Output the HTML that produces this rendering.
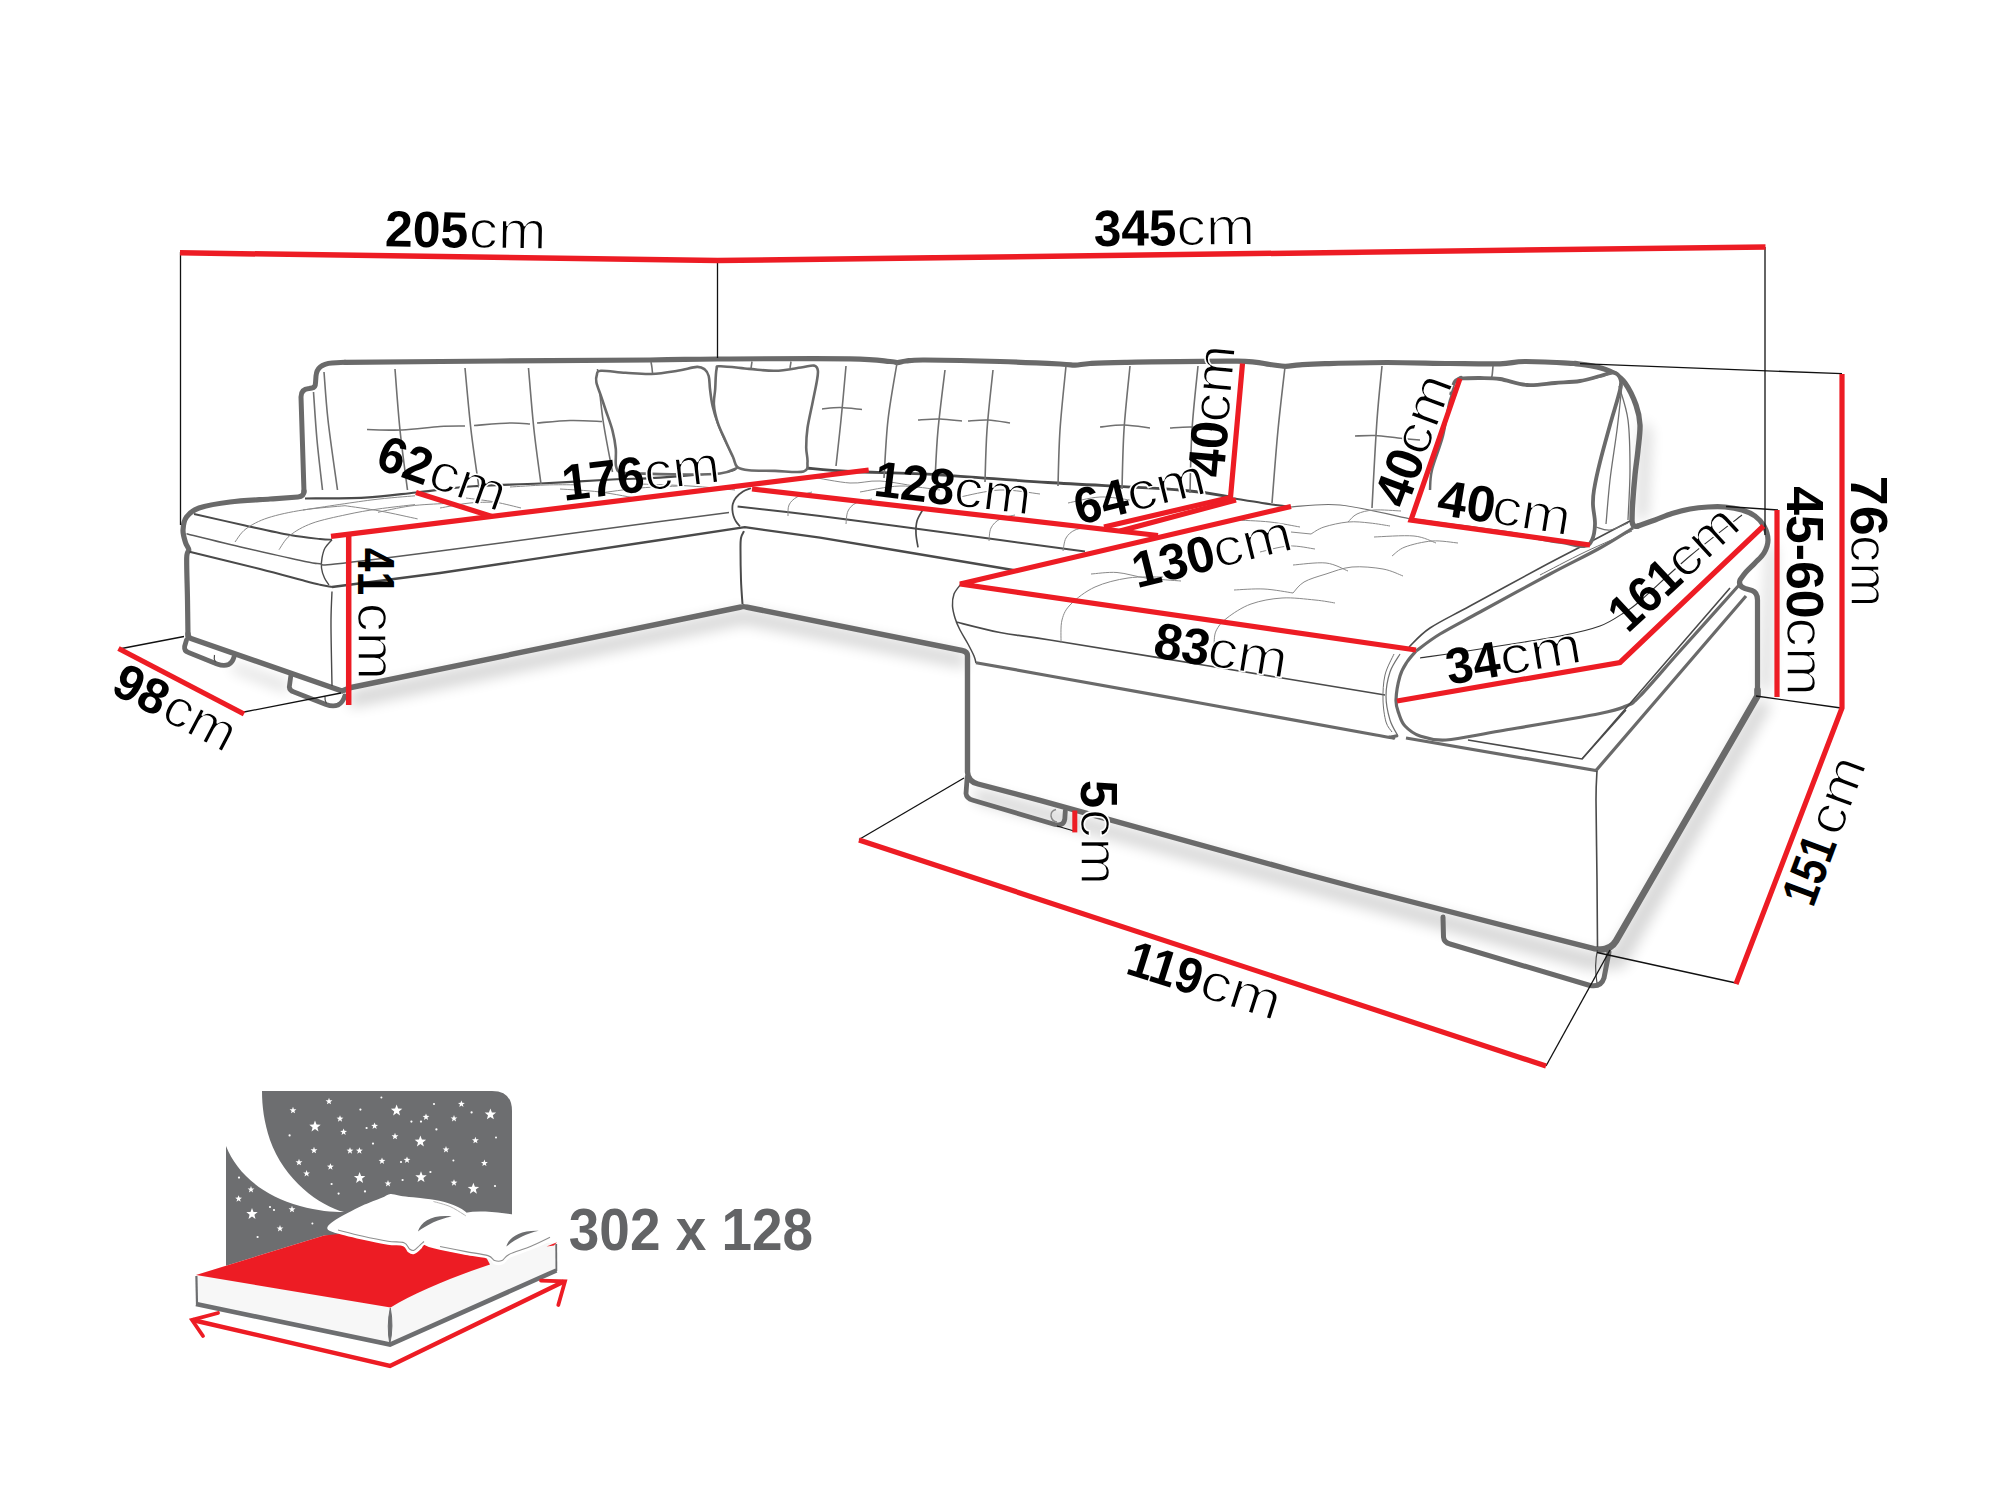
<!DOCTYPE html>
<html lang="en"><head><meta charset="utf-8"><title>Sofa dimensions</title>
<style>
html,body{margin:0;padding:0;background:#fff;}
body{width:2000px;height:1500px;overflow:hidden;}
svg{display:block;}
text{font-family:"Liberation Sans",sans-serif;fill:#000;}
.b{font-weight:700;}
.r{font-weight:400;}
</style></head><body>
<svg width="2000" height="1500" viewBox="0 0 2000 1500">
<defs>
<filter id="sh" x="-20%" y="-20%" width="140%" height="140%"><feGaussianBlur stdDeviation="7"/></filter>
</defs>
<rect width="2000" height="1500" fill="#fff"/>
<g filter="url(#sh)" opacity="0.16" fill="#000">
<path d="M350,691 L744,609 L965,654 L965,668 L744,624 L350,708Z"/>
<path d="M975,788 L1595,953 L1612,950 L1757,700 L1772,704 L1624,968 L1590,970 L975,802Z"/>
<path d="M1641,420 L1651,430 L1647,518 L1637,520Z"/>
<path d="M232,663 L288,683 L288,692 L232,670Z"/>
<path d="M1768,545 L1776,548 L1770,690 L1760,690Z"/>
</g>
<path d="M188,637 C187.9,630.8 187.7,613.2 187.5,600 C187.3,586.8 186.5,566.3 186.7,558 C186.9,549.7 189,552.6 188.8,550 C188.6,547.4 186.5,545.8 185.5,542.5 C184.5,539.2 182.8,534.2 183,530 C183.2,525.8 183.8,520.7 186.5,517 C189.2,513.3 191.8,510.5 199,508 C206.2,505.5 218.2,503.5 230,502 C241.8,500.5 258.7,499.8 270,499 C281.3,498.2 293.3,497.3 298,497 Q304,496.5 304,491" fill="none" stroke="#6a6a6a" stroke-width="5.2" stroke-linejoin="round" stroke-linecap="round"/>
<path d="M304,492 L301,397 Q301,389 309,388.5 L312,388 Q315.5,387.5 315.5,383 L316,376 Q317,364 332,363 L345,362.3" fill="none" stroke="#6a6a6a" stroke-width="5" stroke-linejoin="round" stroke-linecap="round"/>
<path d="M345,362.3 C370.8,362.1 449.2,361.4 500,361 C550.8,360.6 613.8,360.3 650,360 C686.2,359.7 683.7,359.2 717,359 C750.3,358.8 821.2,358.4 850,358.8 C878.8,359.2 882.1,360.9 890,361.5 C897.9,362.1 894.8,362.7 897.5,362.6 C900.2,362.5 901.4,361.4 906,361 C910.6,360.6 909.3,359.9 925,360 C940.7,360.1 977.5,360.8 1000,361.5 C1022.5,362.2 1047.5,363.4 1060,364 C1072.5,364.6 1070,365.3 1075,365.2 C1080,365.1 1081.7,364 1090,363.5 C1098.3,363 1100.5,362.8 1125,362.4 C1149.5,362 1212.8,360.8 1237,361.2 C1261.2,361.6 1262,363.6 1270,364.5 C1278,365.4 1280,366.2 1285,366.3 C1290,366.4 1293.3,365.2 1300,364.8 C1306.7,364.4 1310.5,364.1 1325,363.7 C1339.5,363.3 1366.2,362.5 1387,362.5 C1407.8,362.5 1431.2,363.3 1450,363.5 C1468.8,363.7 1487.5,364.1 1500,363.8 C1512.5,363.5 1512.5,361.6 1525,361.5 C1537.5,361.4 1566.7,363.2 1575,363.5" fill="none" stroke="#6a6a6a" stroke-width="5.2" stroke-linejoin="round" stroke-linecap="round"/>
<path d="M1575,363.5 C1578.7,364.1 1590.8,365.5 1597,367 C1603.2,368.5 1607.8,369.8 1612.5,372.5 C1617.2,375.2 1621.1,377.6 1625,383 C1628.9,388.4 1633.5,398 1636,405 C1638.5,412 1639.7,417.5 1640,425 C1640.3,432.5 1638.8,441.7 1638,450 C1637.2,458.3 1635.9,465.8 1635,475 C1634.1,484.2 1633,497.5 1632.5,505 C1632,512.5 1632.1,517.5 1632,520 Q1632,528 1638,526" fill="none" stroke="#6a6a6a" stroke-width="5.4" stroke-linejoin="round" stroke-linecap="round"/>
<path d="M1638,526 C1640.8,525 1649.3,522.1 1655,520 C1660.7,517.9 1666.2,515.3 1672,513.5 C1677.8,511.7 1684,510.1 1690,509 C1696,507.9 1702.2,507.3 1708,507 C1713.8,506.7 1719.3,506.5 1725,507 C1730.7,507.5 1737,508.5 1742,510 C1747,511.5 1751.3,513.3 1755,516 C1758.7,518.7 1761.8,522 1764,526 C1766.2,530 1768,535.5 1768,540 C1768,544.5 1766.2,549.2 1764,553 C1761.8,556.8 1758,559.8 1755,563 C1752,566.2 1748.5,569.2 1746,572 C1743.5,574.8 1741,578.7 1740,580 Q1738,586 1745,588.5 L1752,590.5 Q1757.5,592.5 1757.5,600 L1757.5,696" fill="none" stroke="#6a6a6a" stroke-width="5.2" stroke-linejoin="round" stroke-linecap="round"/>
<path d="M1757.5,690 L1757.5,696 L1616,941 Q1611,949.5 1600,949.8" fill="none" stroke="#6a6a6a" stroke-width="6.6" stroke-linejoin="round" stroke-linecap="round"/>
<path d="M1604,949.6 L1594,948.7 L1360,888.5 L1300,872.5 L1040,800.3 L978,784 Q968,781.5 967.5,772 L967.5,656 Q967.5,651.5 962,650.5 L746,607 Q743.5,606.3 741,607 L351,687.5 Q346,689.5 342,691 L191,638.5 Q188,637.5 188,634" fill="none" stroke="#6a6a6a" stroke-width="5.4" stroke-linejoin="round" stroke-linecap="round"/>
<path d="M186.5,640 L184.6,646.5 Q184,651 188.5,652.5 L217,664 Q224,666.5 228.5,664.5 Q232.5,662.5 234,657" fill="none" stroke="#6a6a6a" stroke-width="4.8" stroke-linejoin="round" stroke-linecap="round"/>
<path d="M290.8,676 L289.3,687 Q289.5,690.5 294,692 L326,704.5 Q333,707 338,705 Q343,702.5 344.7,696" fill="none" stroke="#6a6a6a" stroke-width="4.8" stroke-linejoin="round" stroke-linecap="round"/>
<path d="M214.5,655 Q213.5,659 215.5,662" fill="none" stroke="#4a4a4a" stroke-width="1.2" />
<path d="M325,696.5 Q324.5,700 326.5,703.5" fill="none" stroke="#4a4a4a" stroke-width="1.2" />
<path d="M967.2,777 L966,793.5 Q966.5,798.5 973,800.3 L1055,824.5 Q1063.5,826.5 1064.8,819 L1065.3,811" fill="none" stroke="#6a6a6a" stroke-width="4.8" stroke-linejoin="round" stroke-linecap="round"/>
<path d="M1056,809.5 Q1050.5,811 1051,816 Q1052,821.5 1057,822" fill="none" stroke="#888" stroke-width="1.4" />
<path d="M1443,917 L1443.5,937 Q1444,942.5 1450,944 L1590,985.5 Q1601,987.5 1604,978 L1609,952" fill="none" stroke="#6a6a6a" stroke-width="5" stroke-linejoin="round" stroke-linecap="round"/>
<path d="M1597.5,950 Q1594,965 1597,983" fill="none" stroke="#4a4a4a" stroke-width="1.2" />
<path d="M305,498.5 C315,498.4 346.5,498.7 365,497.7 C383.5,496.7 398.5,494.4 416,492.5 C433.5,490.6 449.3,488 470,486.5 C490.7,485 516.3,484.7 540,483.5 C563.7,482.3 592,480.5 612,479.5 C632,478.5 641.3,478.9 660,477.6 C678.7,476.4 711.3,473.5 724,472 C736.7,470.5 734,469.2 736,468.6" fill="none" stroke="#4a4a4a" stroke-width="2.2" />
<path d="M194,514 C202.5,515.9 229,522 245,525.5 C261,529 277.5,532.8 290,535 C302.5,537.2 313,538.2 320,539 C327,539.8 330,539.6 332,539.7" fill="none" stroke="#4a4a4a" stroke-width="1.9" />
<path d="M332,539.7 C330.8,541.1 326.7,545 325,548 C323.3,551 322.6,554.7 322,558 C321.4,561.3 321.1,564.7 321.5,568 C321.9,571.3 323.2,575.2 324.5,578 C325.8,580.8 328.2,583.8 329,585" fill="none" stroke="#4a4a4a" stroke-width="1.4" />
<path d="M186.5,533.7 C196.2,536.1 225.2,543.4 245,548 C264.8,552.6 292.5,558.9 305,561.5 C317.5,564.1 315,563.3 320,563.7 C325,564.1 315,566.1 335,564 C355,561.9 385.8,558.1 440,551 C494.2,543.9 611.8,528 660,521.6 C708.2,515.2 717.5,513.9 729,512.4" fill="none" stroke="#5a5a5a" stroke-width="1.5" />
<path d="M189.5,551.7 C201.2,554.6 240.8,564.1 260,569 C279.2,573.9 295,578.4 305,581 C315,583.6 315.5,583.7 320,584.7 C324.5,585.7 330,586.6 332,587" fill="none" stroke="#4a4a4a" stroke-width="2.0" />
<path d="M332,587 L440,573 L660,540 L744.8,527.2 L820,537.6 L900,551 L1016,570.5" fill="none" stroke="#4a4a4a" stroke-width="2.3" stroke-linejoin="round"/>
<path d="M332,591.5 C331.8,596.2 331.1,608.6 331,620 C330.9,631.4 331.3,649 331.5,660 C331.7,671 331.9,681.7 332,686" fill="none" stroke="#4a4a4a" stroke-width="1.4" />
<path d="M744,531.2 C743.5,532.3 741.6,534.9 741,538 C740.4,541.1 740.5,543 740.5,550 C740.5,557 740.7,571 741,580 C741.3,589 742.2,600 742.5,604" fill="none" stroke="#4a4a4a" stroke-width="2" />
<path d="M751,488.2 C749.7,488.8 745.5,489.9 743,491.5 C740.5,493.1 737.7,495.5 736,497.6 C734.3,499.7 733.4,501.9 732.8,504 C732.2,506.1 732.3,508 732.4,510 C732.5,512 732.9,514.1 733.5,516 C734.1,517.9 734.9,519.8 736,521.5 C737.1,523.2 739.3,525.6 740,526.4" fill="none" stroke="#4a4a4a" stroke-width="1.8" />
<path d="M737.6,506.4 C751.3,508 792.9,512.6 820,516 C847.1,519.4 870,522.5 900,526.5 C930,530.5 969.2,535.8 1000,540 C1030.8,544.2 1070.8,549.6 1085,551.5" fill="none" stroke="#4a4a4a" stroke-width="2" />
<path d="M806,468 C813.3,468.6 828,470.4 850,471.5 C872,472.6 905,473 938,474.8 C971,476.6 1007.7,480 1048,482.5 C1088.3,485 1149.7,487.6 1180,490 C1210.3,492.4 1221.7,495.8 1230,497" fill="none" stroke="#4a4a4a" stroke-width="2.8" />
<path d="M961,584 C959.8,585.7 955.4,590.3 954,594 C952.6,597.7 952.3,602 952.5,606 C952.7,610 953.8,614 955,618 C956.2,622 957.8,625.7 960,630 C962.2,634.3 965.7,639.7 968,644 C970.3,648.3 972.7,652.8 974,656 C975.3,659.2 975.7,661.8 976,663" fill="none" stroke="#4a4a4a" stroke-width="1.5" />
<path d="M956,622 C963.3,623.8 984.3,629.5 1000,632.5 C1015.7,635.5 1016.7,634.7 1050,640 C1083.3,645.3 1144.2,655.3 1200,664.5 C1255.8,673.7 1354.2,689.9 1385,695" fill="none" stroke="#4a4a4a" stroke-width="1.7" />
<path d="M976,662.7 C988.3,664.9 1012.7,669.3 1050,676 C1087.3,682.7 1145.7,693.2 1200,703 C1254.3,712.8 1344.3,729.3 1376,735 C1407.7,740.7 1386.3,736.9 1390,737 C1393.7,737.1 1396.7,735.8 1398,735.5" fill="none" stroke="#6a6a6a" stroke-width="3.2" />
<path d="M1231,498 C1236.2,498.8 1252,501.5 1262,503 C1272,504.5 1286.2,506.3 1291,507" fill="none" stroke="#4a4a4a" stroke-width="2" />
<path d="M1291,507 C1299.2,506.7 1320,503 1340,505 C1360,507 1399.2,516.7 1411,519" fill="none" stroke="#707070" stroke-width="1.2" />
<path d="M1416,651 C1414.5,652.8 1409.7,657.8 1407,662 C1404.3,666.2 1401.8,669.7 1400,676 C1398.2,682.3 1396.2,693.7 1396,700 C1395.8,706.3 1397.5,709.7 1399,714 C1400.5,718.3 1401.5,722.3 1405,726 C1408.5,729.7 1413.2,733.7 1420,736 C1426.8,738.3 1432.7,740.8 1446,740 C1459.3,739.2 1474.3,735.4 1500,731 C1525.7,726.6 1579,717.7 1600,713.5 C1621,709.3 1619.3,708.9 1626,706 C1632.7,703.1 1631,705.2 1640,696 C1649,686.8 1663.3,669.7 1680,651 C1696.7,632.3 1730,595.2 1740,584" fill="none" stroke="#6a6a6a" stroke-width="3.2" />
<path d="M1416,651 C1420,648.2 1429.3,640.5 1440,634 C1450.7,627.5 1461.7,622 1480,612 C1498.3,602 1530,584.7 1550,574 C1570,563.3 1586.2,555.7 1600,548 C1613.8,540.3 1627.5,531.3 1633,528" fill="none" stroke="#6a6a6a" stroke-width="3.2" />
<path d="M1409,647 C1412.5,643.8 1419.8,634.8 1430,628 C1440.2,621.2 1451.7,616 1470,606 C1488.3,596 1520,578.7 1540,568 C1560,557.3 1575,549.8 1590,542 C1605,534.2 1623.3,524.5 1630,521" fill="none" stroke="#4a4a4a" stroke-width="1.6" />
<path d="M1400,654 C1398.3,657 1392.3,665 1390,672 C1387.7,679 1386,688 1386,696 C1386,704 1388,713.3 1390,720 C1392,726.7 1396.7,733.3 1398,736" fill="none" stroke="#707070" stroke-width="1.2" />
<path d="M1394,654 C1392.5,657.5 1386.8,667.3 1385,675 C1383.2,682.7 1382.8,692.2 1383,700 C1383.2,707.8 1384.5,716.7 1386,722 C1387.5,727.3 1391,730.3 1392,732" fill="none" stroke="#707070" stroke-width="1" />
<path d="M1420,658 C1430,656.5 1456.7,652.7 1480,649 C1503.3,645.3 1540,639.8 1560,636 C1580,632.2 1589.2,630 1600,626 C1610.8,622 1618.3,616.2 1625,612 C1631.7,607.8 1629.2,610.3 1640,601 C1650.8,591.7 1673,570.3 1690,556 C1707,541.7 1733.3,521.8 1742,515" fill="none" stroke="#333" stroke-width="1.1" />
<path d="M1406,738 L1596,770.5 L1746,596" fill="none" stroke="#6a6a6a" stroke-width="3.2" stroke-linejoin="miter"/>
<path d="M1468,740 L1582,759 L1730,588" fill="none" stroke="#4a4a4a" stroke-width="1.6" />
<path d="M1582,759 L1626,710" fill="none" stroke="#4a4a4a" stroke-width="1.4" />
<path d="M1597,771 C1596.8,775.8 1596,781.8 1596,800 C1596,818.2 1596.8,855.5 1597,880 C1597.2,904.5 1597.4,935.8 1597.5,947" fill="none" stroke="#4a4a4a" stroke-width="1.6" />
<path d="M324,372 C324.7,380 325.8,400.3 328,420 C330.2,439.7 335.9,478.3 337.5,490" fill="none" stroke="#707070" stroke-width="1.6" />
<path d="M313.5,392 C314.1,400 315.5,423.7 317,440 C318.5,456.3 321.6,481.7 322.5,490" fill="none" stroke="#707070" stroke-width="1.6" />
<path d="M395,369 C395.8,379.2 397.9,409.8 400,430 C402.1,450.2 406.2,480 407.5,490" fill="none" stroke="#707070" stroke-width="1.6" />
<path d="M465,368 C466,378.3 468.7,410 471,430 C473.3,450 477.7,478.3 479,488" fill="none" stroke="#707070" stroke-width="1.6" />
<path d="M528.5,368 C529.4,378.3 531.9,410.7 534,430 C536.1,449.3 539.8,475 541,484" fill="none" stroke="#707070" stroke-width="1.6" />
<path d="M597.5,369 C598.4,377.5 600.5,402.8 603,420 C605.5,437.2 610.9,463.3 612.5,472" fill="none" stroke="#707070" stroke-width="1.6" />
<path d="M367,429.5 C372.8,429.6 389.8,430.5 402,430 C414.2,429.5 429.5,427.2 440,426.5 C450.5,425.8 460.8,426.1 465,426" fill="none" stroke="#707070" stroke-width="1.6" />
<path d="M474,425.5 C480,425.1 500.7,423.2 510,423 C519.3,422.8 526.7,423.8 530,424" fill="none" stroke="#707070" stroke-width="1.6" />
<path d="M537,423 C542.5,422.6 559.2,420.8 570,420.5 C580.8,420.2 596.7,421.3 602,421.5" fill="none" stroke="#707070" stroke-width="1.6" />
<path d="M846,366 C845.2,375 842.7,403.3 841,420 C839.3,436.7 836.8,458.3 836,466" fill="none" stroke="#707070" stroke-width="1.6" />
<path d="M897,363 C895.5,372.5 890.2,400.8 888,420 C885.8,439.2 884.7,468.3 884,478" fill="none" stroke="#707070" stroke-width="1.6" />
<path d="M945,370 C943.8,380 939.7,411.7 938,430 C936.3,448.3 935.5,471.7 935,480" fill="none" stroke="#707070" stroke-width="1.6" />
<path d="M993,370 C992,380 988.3,411.3 987,430 C985.7,448.7 985.3,473.3 985,482" fill="none" stroke="#707070" stroke-width="1.6" />
<path d="M1066,366 C1065,376.7 1061.3,410 1060,430 C1058.7,450 1058.3,476.7 1058,486" fill="none" stroke="#707070" stroke-width="1.6" />
<path d="M1130,366 C1129,376.7 1125.3,409.5 1124,430 C1122.7,450.5 1122.3,479.2 1122,489" fill="none" stroke="#707070" stroke-width="1.6" />
<path d="M1198,366 C1197,376.7 1193.3,408.8 1192,430 C1190.7,451.2 1190.3,482.5 1190,493" fill="none" stroke="#707070" stroke-width="1.6" />
<path d="M822,409 C825,408.8 833.3,407.4 840,407.5 C846.7,407.6 858.3,409.2 862,409.5" fill="none" stroke="#707070" stroke-width="1.6" />
<path d="M918,420 C921.7,419.8 932.7,418.8 940,419 C947.3,419.2 958.3,420.7 962,421" fill="none" stroke="#707070" stroke-width="1.6" />
<path d="M968,421 C971.3,420.8 981,419.7 988,420 C995,420.3 1006.3,422.5 1010,423" fill="none" stroke="#707070" stroke-width="1.6" />
<path d="M1100,427 C1104,426.7 1115.7,424.8 1124,425 C1132.3,425.2 1145.7,427.5 1150,428" fill="none" stroke="#707070" stroke-width="1.6" />
<path d="M1170,428 C1173.7,427.8 1185,426.7 1192,427 C1199,427.3 1208.7,429.5 1212,430" fill="none" stroke="#707070" stroke-width="1.6" />
<path d="M1285,367 C1283.8,377.5 1280.2,407.3 1278,430 C1275.8,452.7 1273,490.8 1272,503" fill="none" stroke="#707070" stroke-width="1.6" />
<path d="M1382,366 C1381.2,375 1378.7,396.3 1377,420 C1375.3,443.7 1372.8,493.3 1372,508" fill="none" stroke="#707070" stroke-width="1.6" />
<path d="M1493,366 C1492.8,367.7 1492.5,373.7 1492,376 C1491.5,378.3 1490.3,379.3 1490,380" fill="none" stroke="#707070" stroke-width="1.6" />
<path d="M1355,436 C1358.3,435.9 1367.8,435.2 1375,435.5 C1382.2,435.8 1390.5,437.2 1398,438 C1405.5,438.8 1416.3,439.7 1420,440" fill="none" stroke="#707070" stroke-width="1.6" />
<path d="M235,542 C236.8,539.8 240.5,532.8 246,528.8 C251.5,524.8 258.5,520.9 268,517.8 C277.5,514.7 290.2,512 303,510 C315.8,508 338,506.4 345,505.7" fill="none" stroke="#8a8a8a" stroke-width="1.0" />
<path d="M279,549.7 C280.8,547.3 284.5,539.8 290,535.4 C295.5,531 302.5,526.8 312,523.3 C321.5,519.8 336,516.9 347,514.5 C358,512.1 366.7,510.6 378,509 C389.3,507.4 408.8,505.3 415,504.6" fill="none" stroke="#8a8a8a" stroke-width="1.0" />
<path d="M345,505.7 C350.8,506.6 367.9,508.8 380,511 C392.1,513.2 411.3,517.6 417.6,518.9" fill="none" stroke="#8a8a8a" stroke-width="1.0" />
<path d="M378,512.3 C383.3,511.2 399,507.5 410,506 C421,504.5 438.3,503.9 444,503.5" fill="none" stroke="#8a8a8a" stroke-width="1.0" />
<path d="M303,510 C314.3,508.3 352.3,502.4 371,500 C389.7,497.6 407.7,496.5 415,495.8" fill="none" stroke="#8a8a8a" stroke-width="1.0" />
<path d="M466,498 C470.8,498.7 485.8,500.3 495,502 C504.2,503.7 516.7,507 521,508" fill="none" stroke="#8a8a8a" stroke-width="1.0" />
<path d="M510,487 C515.8,486.7 534,485.4 545,485 C556,484.6 570.8,484.8 576,484.8" fill="none" stroke="#8a8a8a" stroke-width="1.0" />
<path d="M440,508 C445,507.2 460,504 470,503 C480,502 495,502.2 500,502" fill="none" stroke="#8a8a8a" stroke-width="1.0" />
<path d="M600,493 C606.7,492.2 626.7,489.2 640,488 C653.3,486.8 673.3,486.3 680,486" fill="none" stroke="#8a8a8a" stroke-width="1.0" />
<path d="M560,489 C566.7,489.5 586.7,490.3 600,492 C613.3,493.7 633.3,497.8 640,499" fill="none" stroke="#8a8a8a" stroke-width="1.0" />
<path d="M640,484 C648.3,484.3 674.2,485 690,486 C705.8,487 727.5,489.3 735,490" fill="none" stroke="#8a8a8a" stroke-width="1.0" />
<path d="M788,516 C788.2,514.2 787.5,508.2 789,505 C790.5,501.8 793.2,499.2 797,497 C800.8,494.8 809.5,492.8 812,492" fill="none" stroke="#8a8a8a" stroke-width="1.0" />
<path d="M846,524 C846.3,521.8 846.3,514.5 848,511 C849.7,507.5 852,505 856,503 C860,501 869.3,499.7 872,499" fill="none" stroke="#8a8a8a" stroke-width="1.0" />
<path d="M989,541 C989.3,538.8 989.2,531.7 991,528 C992.8,524.3 996,521.2 1000,519 C1004,516.8 1012.5,515.7 1015,515" fill="none" stroke="#8a8a8a" stroke-width="1.0" />
<path d="M1063,551 C1063.5,548.8 1064,541.5 1066,538 C1068,534.5 1071,531.8 1075,530 C1079,528.2 1087.5,527.5 1090,527" fill="none" stroke="#8a8a8a" stroke-width="1.0" />
<path d="M812,477 C818.3,478 838.7,482.3 850,483 C861.3,483.7 868.3,480.3 880,481 C891.7,481.7 913.3,486 920,487" fill="none" stroke="#8a8a8a" stroke-width="1.0" />
<path d="M960,497 C966.7,495.8 986.7,490.5 1000,490 C1013.3,489.5 1033.3,493.3 1040,494" fill="none" stroke="#8a8a8a" stroke-width="1.0" />
<path d="M1068,503 C1073.3,502 1089.7,497.5 1100,497 C1110.3,496.5 1125,499.5 1130,500" fill="none" stroke="#8a8a8a" stroke-width="1.0" />
<path d="M860,492 C866.7,491 886.7,486.3 900,486 C913.3,485.7 933.3,489.3 940,490" fill="none" stroke="#8a8a8a" stroke-width="1.0" />
<path d="M1061,643 C1061.2,639.2 1060.3,626.5 1062,620 C1063.7,613.5 1065.5,609.5 1071,604 C1076.5,598.5 1085.5,591.3 1095,587 C1104.5,582.7 1116.7,579.7 1128,578 C1139.3,576.3 1157.2,577.2 1163,577" fill="none" stroke="#8a8a8a" stroke-width="1.0" />
<path d="M1214,646 C1214.3,643.5 1213.8,635.7 1216,631 C1218.2,626.3 1221.2,622.5 1227,618 C1232.8,613.5 1241.8,607.3 1251,604 C1260.2,600.7 1271.3,598.7 1282,598 C1292.7,597.3 1306.2,599.2 1315,600 C1323.8,600.8 1331.7,602.5 1335,603" fill="none" stroke="#8a8a8a" stroke-width="1.0" />
<path d="M1091,574 C1095.3,573.8 1107.8,571.8 1117,572.5 C1126.2,573.2 1135.3,576.6 1146,578 C1156.7,579.4 1175.2,580.5 1181,581" fill="none" stroke="#8a8a8a" stroke-width="1.0" />
<path d="M1234,590 C1239,589.8 1254.2,588.5 1264,589 C1273.8,589.5 1288.2,592.3 1293,593" fill="none" stroke="#8a8a8a" stroke-width="1.0" />
<path d="M1293,593 C1294.8,591.2 1298.5,585.2 1304,582 C1309.5,578.8 1318,576.5 1326,574 C1334,571.5 1342.5,567.8 1352,567 C1361.5,566.2 1374.5,567.5 1383,569 C1391.5,570.5 1399.7,574.8 1403,576" fill="none" stroke="#8a8a8a" stroke-width="1.0" />
<path d="M1293,565 C1298.5,564.7 1316.8,562 1326,563 C1335.2,564 1344.3,569.7 1348,571" fill="none" stroke="#8a8a8a" stroke-width="1.0" />
<path d="M1392,556 C1394.2,554.5 1398.3,549.5 1405,547 C1411.7,544.5 1423.2,541.7 1432,541 C1440.8,540.3 1453.7,542.7 1458,543" fill="none" stroke="#8a8a8a" stroke-width="1.0" />
<path d="M1311,534 C1313.2,532.8 1317.8,529 1324,527 C1330.2,525 1340.3,522.7 1348,522 C1355.7,521.3 1363,522.3 1370,523 C1377,523.7 1386.7,525.5 1390,526" fill="none" stroke="#8a8a8a" stroke-width="1.0" />
<path d="M1348,522 C1349.5,520.7 1352.7,516 1357,514 C1361.3,512 1366.7,510.5 1374,510 C1381.3,509.5 1396.5,510.8 1401,511" fill="none" stroke="#8a8a8a" stroke-width="1.0" />
<path d="M1374,537 C1380.7,536.8 1403.7,535 1414,536 C1424.3,537 1432.3,541.8 1436,543" fill="none" stroke="#8a8a8a" stroke-width="1.0" />
<path d="M1260,552 C1264.8,551 1279.8,546.5 1289,546 C1298.2,545.5 1310.7,548.5 1315,549" fill="none" stroke="#8a8a8a" stroke-width="1.0" />
<path d="M1291,532 L1311,534" fill="none" stroke="#8a8a8a" stroke-width="1.0" />
<path d="M1235,520 C1240.8,520.3 1259.2,520.8 1270,522 C1280.8,523.2 1295,526.2 1300,527" fill="none" stroke="#8a8a8a" stroke-width="1.0" />
<path d="M922.6,510 C921.7,511.8 918.1,517 917,521 C915.9,525 915.8,529.6 916,534 C916.2,538.4 917.7,545.2 918,547.4" fill="none" stroke="#4a4a4a" stroke-width="1.7" />
<path d="M600.8,370.8 C605.6,370.4 617,372.3 625.5,372.8 C634,373.3 642.8,374.3 651.5,374 C660.2,373.7 669.9,372 677.5,370.8 C685.1,369.6 692.5,367.1 697,366.9 C701.5,366.7 702.8,368 704.8,369.5 C706.8,371 707.8,372.8 708.7,376 C709.6,379.2 709.4,384 710,389 C710.6,394 711.3,400.4 712.6,406 C713.9,411.6 715.6,417 717.8,422.8 C720,428.6 723,435.4 725.6,441 C728.2,446.6 731.5,452.6 733.4,456.6 C735.3,460.6 737,462.9 737.3,465 C737.6,467.1 737.9,467.6 735,469 C732.1,470.4 727.5,472.6 720,473.5 C712.5,474.4 703.3,474.5 690,474.5 C676.7,474.5 651.5,473.8 640,473.5 C628.5,473.2 625,473.8 621,472.5 C617,471.2 616.9,469.9 616,466 C615.1,462.1 616.4,454.9 615.8,449 C615.2,443.1 614.1,436.9 612.5,430.6 C610.9,424.3 608,416.9 606,411 C604,405.1 602.4,400.2 600.8,395.5 C599.2,390.8 597.1,385.9 596.4,382.5 C595.7,379.1 596.1,376.9 596.8,375 C597.5,373.1 596,371.2 600.8,370.8Z" fill="#fff" stroke="#6a6a6a" stroke-width="2.6" />
<path d="M716.5,369.5 C717.4,365.7 715,366.4 720.4,366.3 C725.8,366.2 739.9,368.1 749,368.9 C758.1,369.6 766.3,371 775,370.8 C783.7,370.6 794.5,368.4 801,367.5 C807.5,366.6 811.2,365.1 814,365.6 C816.8,366.2 817.5,368 817.9,370.8 C818.3,373.6 817.5,377.3 816.6,382.5 C815.7,387.7 814.2,394.4 812.7,402 C811.2,409.6 808.6,420.4 807.5,428 C806.4,435.6 806.2,441.8 806.2,447.5 C806.2,453.2 807.9,458 807.5,462 C807.1,466 809,470 803.6,471.5 C798.2,473 784.1,471.1 775,470.9 C765.9,470.7 755.3,470.9 749,470.3 C742.7,469.7 740,469.2 737.3,467 C734.6,464.8 735,461.3 733,457 C731,452.7 728.1,446.7 725.6,441 C723.1,435.3 719.8,428.9 717.8,422.8 C715.8,416.7 714.3,410.2 713.9,404.6 C713.5,399 714.8,394.9 715.2,389 C715.6,383.1 715.6,373.3 716.5,369.5Z" fill="#fff" stroke="#6a6a6a" stroke-width="2.6" />
<path d="M1460,378.5 C1463.3,378.4 1473.3,377.9 1480,378 C1486.7,378.1 1492.2,377.8 1500,379 C1507.8,380.2 1517.8,384.3 1527,385 C1536.2,385.7 1546.2,383.7 1555,383 C1563.8,382.3 1572.5,382.2 1580,381 C1587.5,379.8 1594.5,377.4 1600,376 C1605.5,374.6 1609.7,372.2 1613,372.5 C1616.3,372.8 1618.8,375.1 1620,378 C1621.2,380.9 1621.7,382.2 1620,390 C1618.3,397.8 1613.3,413 1610,425 C1606.7,437 1602.7,451.2 1600,462 C1597.3,472.8 1595.2,482.8 1594,490 C1592.8,497.2 1592.8,499.3 1593,505 C1593.2,510.7 1595.2,518.2 1595,524 C1594.8,529.8 1593.8,536.3 1592,540 C1590.2,543.7 1589.3,545.7 1584,546 C1578.7,546.3 1574,544.3 1560,542 C1546,539.7 1524.8,535.7 1500,532 C1475.2,528.3 1425.8,522 1411,520Z" fill="#fff"/>
<path d="M1460,378.5 C1463.3,378.4 1473.3,377.9 1480,378 C1486.7,378.1 1492.2,377.8 1500,379 C1507.8,380.2 1517.8,384.3 1527,385 C1536.2,385.7 1546.2,383.7 1555,383 C1563.8,382.3 1572.5,382.2 1580,381 C1587.5,379.8 1594.5,377.4 1600,376 C1605.5,374.6 1609.7,372.2 1613,372.5 C1616.3,372.8 1618.8,375.1 1620,378 C1621.2,380.9 1621.7,382.2 1620,390 C1618.3,397.8 1613.3,413 1610,425 C1606.7,437 1602.7,451.2 1600,462 C1597.3,472.8 1595.2,482.8 1594,490 C1592.8,497.2 1592.8,499.3 1593,505 C1593.2,510.7 1595.2,518.2 1595,524 C1594.8,529.8 1593.8,536.3 1592,540 C1590.2,543.7 1589.3,545.7 1584,546 C1578.7,546.3 1574,544.3 1560,542 C1546,539.7 1524.8,535.7 1500,532 C1475.2,528.3 1425.8,522 1411,520" fill="none" stroke="#6a6a6a" stroke-width="3.8" stroke-linecap="round"/>
<path d="M1451,394 C1451.6,392 1452.8,384.8 1454.5,382 C1456.2,379.2 1459.9,378.2 1461,377.5" fill="none" stroke="#6a6a6a" stroke-width="3.4" stroke-linecap="round"/>
<path d="M1580,381 C1583.3,380.3 1594.7,378.3 1600,377 C1605.3,375.7 1610,373.7 1612,373" fill="none" stroke="#707070" stroke-width="1.3" />
<path d="M1619,386 C1620.5,391.7 1626.2,406 1628,420 C1629.8,434 1630,453.3 1630,470 C1630,486.7 1628.3,511.7 1628,520" fill="none" stroke="#707070" stroke-width="1.3" />
<path d="M1622,385 C1621.2,392.5 1619,414.2 1617,430 C1615,445.8 1611.8,464.3 1610,480 C1608.2,495.7 1606.7,516.7 1606,524" fill="none" stroke="#707070" stroke-width="1.3" />
<path d="M1596,527 C1598.3,527.5 1604.7,530.7 1610,530 C1615.3,529.3 1625,524.2 1628,523" fill="none" stroke="#707070" stroke-width="1.2" />
<path d="M1460,381 C1458.3,384.2 1452.8,390.8 1450,400 C1447.2,409.2 1446,424.3 1443,436 C1440,447.7 1434.2,461 1432,470 C1429.8,479 1430.3,486.7 1430,490" fill="none" stroke="#6a6a6a" stroke-width="2.5" />
<path d="M1540,575 C1547.5,571.2 1569.7,559.3 1585,552 C1600.3,544.7 1624.2,534.5 1632,531" fill="none" stroke="#707070" stroke-width="1" />
<path d="M651,362 C651.2,363 651.8,366.2 652,368 C652.2,369.8 652.4,372.2 652.5,373" fill="none" stroke="#707070" stroke-width="1.6" />
<path d="M752,361.5 C751.9,362.1 751.7,363.8 751.5,365 C751.3,366.2 751.1,367.9 751,368.5" fill="none" stroke="#707070" stroke-width="1.6" />
<path d="M791,361.5 C790.9,362.1 790.7,363.9 790.5,365 C790.3,366.1 790.1,367.5 790,368" fill="none" stroke="#707070" stroke-width="1.6" />
<line x1="180.5" y1="252" x2="180.5" y2="525" stroke="#111" stroke-width="1.3" />
<line x1="717.5" y1="260" x2="717.5" y2="358" stroke="#111" stroke-width="1.3" />
<line x1="1765" y1="247" x2="1765" y2="535" stroke="#111" stroke-width="1.3" />
<line x1="1580" y1="363.7" x2="1842" y2="373.7" stroke="#111" stroke-width="1.3" />
<line x1="1726" y1="506.5" x2="1778" y2="510" stroke="#111" stroke-width="1.3" />
<line x1="1756" y1="696" x2="1841" y2="708" stroke="#111" stroke-width="1.3" />
<line x1="119" y1="649" x2="184" y2="636.5" stroke="#111" stroke-width="1.3" />
<line x1="244" y1="712" x2="341" y2="693" stroke="#111" stroke-width="1.3" />
<line x1="964" y1="778" x2="859" y2="839.5" stroke="#111" stroke-width="1.3" />
<line x1="1057" y1="826" x2="1074" y2="831" stroke="#111" stroke-width="1.3" />
<line x1="1546" y1="1066" x2="1610" y2="950" stroke="#111" stroke-width="1.3" />
<line x1="1597" y1="952.5" x2="1736" y2="983" stroke="#111" stroke-width="1.3" />
<path d="M180,252.8 L717.5,260.5 L1765.5,247" fill="none" stroke="#ed1c24" stroke-width="5.5" stroke-linejoin="miter" stroke-linecap="butt"/>
<path d="M331,536.3 L868.7,470" fill="none" stroke="#ed1c24" stroke-width="5.2" stroke-linejoin="miter" stroke-linecap="butt"/>
<path d="M416,492.5 L492,516.5" fill="none" stroke="#ed1c24" stroke-width="5.2" stroke-linejoin="miter" stroke-linecap="butt"/>
<path d="M348.7,536 L348.7,705" fill="none" stroke="#ed1c24" stroke-width="5.5" stroke-linejoin="miter" stroke-linecap="butt"/>
<path d="M752,489 L1158,535.5" fill="none" stroke="#ed1c24" stroke-width="5.2" stroke-linejoin="miter" stroke-linecap="butt"/>
<path d="M1104,527 L1230.5,497.5 L1242.5,363.5" fill="none" stroke="#ed1c24" stroke-width="5.2" stroke-linejoin="miter" stroke-linecap="butt"/>
<path d="M1120,531 L1236,500" fill="none" stroke="#ed1c24" stroke-width="5.2" stroke-linejoin="miter" stroke-linecap="butt"/>
<path d="M1291,506.5 L960,584 L1416,650" fill="none" stroke="#ed1c24" stroke-width="5.2" stroke-linejoin="miter" stroke-linecap="butt"/>
<path d="M1460,378.5 L1411,520 L1590,545" fill="none" stroke="#ed1c24" stroke-width="5.2" stroke-linejoin="miter" stroke-linecap="butt"/>
<path d="M1397,701 L1620,662.5 L1763.5,526" fill="none" stroke="#ed1c24" stroke-width="5.2" stroke-linejoin="miter" stroke-linecap="butt"/>
<path d="M1777,510 L1777,697" fill="none" stroke="#ed1c24" stroke-width="5.2" stroke-linejoin="miter" stroke-linecap="butt"/>
<path d="M1842,374 L1842,708 L1736,984" fill="none" stroke="#ed1c24" stroke-width="5.2" stroke-linejoin="miter" stroke-linecap="butt"/>
<path d="M859,840 L1546,1066" fill="none" stroke="#ed1c24" stroke-width="5.2" stroke-linejoin="miter" stroke-linecap="butt"/>
<path d="M118.5,648.5 L244,714" fill="none" stroke="#ed1c24" stroke-width="5.2" stroke-linejoin="miter" stroke-linecap="butt"/>
<path d="M1074.8,810.5 L1074.8,832.4" fill="none" stroke="#ed1c24" stroke-width="5" stroke-linejoin="miter" stroke-linecap="butt"/>
<g transform="translate(386.5 246.3) rotate(1)"><text class="b" font-size="50.9" transform="translate(0 0) scale(0.979 1)" x="-1.7" y="0">205</text><text class="r" font-size="53" transform="translate(84.5 0) scale(1.100 1)" x="-2.2" y="0" stroke="#fff" stroke-width="1.5">cm</text></g>
<g transform="translate(1095 246) rotate(-0.5)"><text class="b" font-size="50.9" transform="translate(0 0) scale(0.971 1)" x="-1.1" y="0">345</text><text class="r" font-size="53" transform="translate(84 0) scale(1.115 1)" x="-2.2" y="0" stroke="#fff" stroke-width="1.5">cm</text></g>
<g transform="translate(375.5 468) rotate(19.6)"><text class="b" font-size="50.9" transform="translate(0 0) scale(0.957 1)" x="-1.8" y="0">62</text><text class="r" font-size="53" transform="translate(55.5 0) scale(1.107 1)" x="-2.2" y="0" stroke="#fff" stroke-width="1.5">cm</text></g>
<g transform="translate(567 500.4) rotate(-6.8)"><text class="b" font-size="50.9" transform="translate(0 0) scale(0.976 1)" x="-3.2" y="0">176</text><text class="r" font-size="53" transform="translate(82 0) scale(1.077 1)" x="-2.2" y="0" stroke="#fff" stroke-width="1.5">cm</text></g>
<g transform="translate(875.7 496) rotate(7)"><text class="b" font-size="50.9" transform="translate(0 0) scale(0.948 1)" x="-3.2" y="0">128</text><text class="r" font-size="53" transform="translate(79.5 0) scale(1.100 1)" x="-2.2" y="0" stroke="#fff" stroke-width="1.5">cm</text></g>
<g transform="translate(1080.5 524.6) rotate(-13.8)"><text class="b" font-size="50.9" transform="translate(0 0) scale(0.954 1)" x="-1.8" y="0">64</text><text class="r" font-size="53" transform="translate(54.5 0) scale(1.131 1)" x="-2.2" y="0" stroke="#fff" stroke-width="1.5">cm</text></g>
<g transform="translate(1223.5 477.6) rotate(-84.8)"><text class="b" font-size="52.3" transform="translate(0 0) scale(0.964 1)" x="-0.8" y="0">40</text><text class="r" font-size="54.4" transform="translate(56.6 0) scale(1.071 1)" x="-2.3" y="0" stroke="#fff" stroke-width="1.5">cm</text></g>
<g transform="translate(1406.4 509.2) rotate(-69.6)"><text class="b" font-size="51.6" transform="translate(0 0) scale(0.981 1)" x="-0.8" y="0">40</text><text class="r" font-size="53.4" transform="translate(56.8 0) scale(1.145 1)" x="-2.2" y="0" stroke="#fff" stroke-width="1.5">cm</text></g>
<g transform="translate(1436.6 514.4) rotate(9.1)"><text class="b" font-size="50.9" transform="translate(0 0) scale(1.014 1)" x="-0.8" y="0">40</text><text class="r" font-size="51.5" transform="translate(56.5 0) scale(1.156 1)" x="-2.2" y="0" stroke="#fff" stroke-width="1.5">cm</text></g>
<g transform="translate(1140 587.6) rotate(-13.9)"><text class="b" font-size="50.9" transform="translate(0 0) scale(0.985 1)" x="-3.2" y="0">130</text><text class="r" font-size="53" transform="translate(82 0) scale(1.138 1)" x="-2.2" y="0" stroke="#fff" stroke-width="1.5">cm</text></g>
<g transform="translate(1153.5 657.2) rotate(9.1)"><text class="b" font-size="50.9" transform="translate(0 0) scale(0.990 1)" x="-1.6" y="0">83</text><text class="r" font-size="53" transform="translate(55.2 0) scale(1.138 1)" x="-2.2" y="0" stroke="#fff" stroke-width="1.5">cm</text></g>
<g transform="translate(1450.1 684.5) rotate(-9.6)"><text class="b" font-size="50.9" transform="translate(0 0) scale(0.955 1)" x="-1.1" y="0">34</text><text class="r" font-size="53" transform="translate(55.7 0) scale(1.166 1)" x="-2.2" y="0" stroke="#fff" stroke-width="1.5">cm</text></g>
<g transform="translate(1630 632) rotate(-42.8)"><text class="b" font-size="50.9" transform="translate(0 0) scale(0.921 1)" x="-3.2" y="0">161</text><text class="r" font-size="53" transform="translate(77 0) scale(1.123 1)" x="-2.2" y="0" stroke="#fff" stroke-width="1.5">cm</text></g>
<g transform="translate(1786.5 487) rotate(90)"><text class="b" font-size="50.9" transform="translate(0 0) scale(1.017 1)" x="-0.8" y="0">45-60</text><text class="r" font-size="53" transform="translate(133 0) scale(1.107 1)" x="-2.2" y="0" stroke="#fff" stroke-width="1.5">cm</text></g>
<g transform="translate(1851.3 478) rotate(90)"><text class="b" font-size="50.9" transform="translate(0 0) scale(1.058 1)" x="-2.1" y="0">76</text><text class="r" font-size="53" transform="translate(59.3 0) scale(1.024 1)" x="-2.2" y="0" stroke="#fff" stroke-width="1.5">cm</text></g>
<g transform="translate(1814 906.2) rotate(-69.5)"><text class="b" font-size="50.1" transform="translate(0 0) scale(0.834 1)" x="-3.1" y="0">151</text><text class="r" font-size="53" transform="translate(75 0) scale(1.123 1)" x="-2.2" y="0" stroke="#fff" stroke-width="1.5">cm</text></g>
<g transform="translate(1127 973.8) rotate(17.6)"><text class="b" font-size="50.1" transform="translate(0 0) scale(0.935 1)" x="-3.1" y="0">119</text><text class="r" font-size="53" transform="translate(75.8 0) scale(1.160 1)" x="-2.2" y="0" stroke="#fff" stroke-width="1.5">cm</text></g>
<g transform="translate(1081.1 781.5) rotate(90)"><text class="b" font-size="52.3" transform="translate(0 0) scale(0.965 1)" x="-1.6" y="0">5</text><text class="r" font-size="53.4" transform="translate(29.8 0) scale(1.069 1)" x="-2.2" y="0" stroke="#fff" stroke-width="1.5">cm</text></g>
<g transform="translate(110.7 692.9) rotate(27.7)"><text class="b" font-size="50.1" transform="translate(0 0) scale(0.980 1)" x="-1.7" y="0">98</text><text class="r" font-size="53" transform="translate(57 0) scale(1.061 1)" x="-2.2" y="0" stroke="#fff" stroke-width="1.5">cm</text></g>
<g transform="translate(357.6 548.4) rotate(90)"><text class="b" font-size="50.9" transform="translate(0 0) scale(0.838 1)" x="-0.8" y="0">41</text><text class="r" font-size="53" transform="translate(56.8 0) scale(1.095 1)" x="-2.2" y="0" stroke="#fff" stroke-width="1.5">cm</text></g>
<path d="M262,1091 L492,1091 Q512,1091 512,1111 L512,1250 L340,1250 L344,1212 C320,1206 284,1180 270,1140 C264,1122 262,1106 262,1091Z" fill="#6d6e70"/>
<path d="M226,1146 C236,1172 262,1196 300,1206 C318,1211 332,1212 344,1212 L344,1270 L226,1270Z" fill="#6d6e70"/>
<g fill="#fff"><polygon points="329,1097.8 329.9,1100.2 332.4,1100.3 330.4,1101.9 331.1,1104.3 329,1102.9 326.9,1104.3 327.6,1101.9 325.6,1100.3 328.1,1100.2"/><polygon points="293,1106.8 293.9,1109.2 296.4,1109.3 294.4,1110.9 295.1,1113.3 293,1111.9 290.9,1113.3 291.6,1110.9 289.6,1109.3 292.1,1109.2"/><circle cx="381.4" cy="1097.4" r="1"/><polygon points="396.6,1104.6 398.1,1108.6 402.3,1108.7 399,1111.4 400.1,1115.5 396.6,1113.1 393.1,1115.5 394.2,1111.4 390.9,1108.7 395.1,1108.6"/><polygon points="461.4,1100.4 462.3,1102.8 464.8,1102.9 462.8,1104.5 463.5,1106.9 461.4,1105.5 459.3,1106.9 460,1104.5 458,1102.9 460.5,1102.8"/><circle cx="434" cy="1104" r="1.1"/><polygon points="490.4,1108.4 491.9,1112.4 496.1,1112.5 492.8,1115.2 493.9,1119.3 490.4,1116.9 486.9,1119.3 488,1115.2 484.7,1112.5 488.9,1112.4"/><circle cx="471.6" cy="1112.4" r="1.1"/><polygon points="454,1115 454.9,1117.4 457.4,1117.5 455.4,1119.1 456.1,1121.5 454,1120.1 451.9,1121.5 452.6,1119.1 450.6,1117.5 453.1,1117.4"/><polygon points="426,1113.4 426.9,1115.8 429.4,1115.9 427.4,1117.5 428.1,1119.9 426,1118.5 423.9,1119.9 424.6,1117.5 422.6,1115.9 425.1,1115.8"/><circle cx="421" cy="1121.6" r="1.1"/><circle cx="411.4" cy="1121.6" r="1.1"/><polygon points="340,1115.2 340.9,1117.6 343.4,1117.7 341.4,1119.3 342.1,1121.7 340,1120.3 337.9,1121.7 338.6,1119.3 336.6,1117.7 339.1,1117.6"/><circle cx="360.4" cy="1109.6" r="1.1"/><polygon points="315,1120.6 316.5,1124.6 320.7,1124.7 317.4,1127.4 318.5,1131.5 315,1129.1 311.5,1131.5 312.6,1127.4 309.3,1124.7 313.5,1124.6"/><polygon points="374.6,1122.4 375.5,1124.8 378,1124.9 376,1126.5 376.7,1128.9 374.6,1127.5 372.5,1128.9 373.2,1126.5 371.2,1124.9 373.7,1124.8"/><circle cx="366.6" cy="1128" r="1.1"/><polygon points="343.6,1128.4 344.5,1130.8 347,1130.9 345,1132.5 345.7,1134.9 343.6,1133.5 341.5,1134.9 342.2,1132.5 340.2,1130.9 342.7,1130.8"/><circle cx="436.4" cy="1129.4" r="1.1"/><circle cx="289.6" cy="1135.4" r="1.1"/><polygon points="395,1132.8 395.9,1135.2 398.4,1135.3 396.4,1136.9 397.1,1139.3 395,1137.9 392.9,1139.3 393.6,1136.9 391.6,1135.3 394.1,1135.2"/><polygon points="420.4,1135.6 421.9,1139.6 426.1,1139.7 422.8,1142.4 423.9,1146.5 420.4,1144.1 416.9,1146.5 418,1142.4 414.7,1139.7 418.9,1139.6"/><polygon points="475.4,1136.8 476.3,1139.2 478.8,1139.3 476.8,1140.9 477.5,1143.3 475.4,1141.9 473.3,1143.3 474,1140.9 472,1139.3 474.5,1139.2"/><circle cx="496" cy="1137.4" r="1"/><circle cx="373" cy="1143.6" r="1.1"/><polygon points="314,1146.8 314.9,1149.2 317.4,1149.3 315.4,1150.9 316.1,1153.3 314,1151.9 311.9,1153.3 312.6,1150.9 310.6,1149.3 313.1,1149.2"/><polygon points="350,1147.2 350.9,1149.6 353.4,1149.7 351.4,1151.3 352.1,1153.7 350,1152.3 347.9,1153.7 348.6,1151.3 346.6,1149.7 349.1,1149.6"/><polygon points="359.4,1147.2 360.3,1149.6 362.8,1149.7 360.8,1151.3 361.5,1153.7 359.4,1152.3 357.3,1153.7 358,1151.3 356,1149.7 358.5,1149.6"/><polygon points="446,1146 446.9,1148.4 449.4,1148.5 447.4,1150.1 448.1,1152.5 446,1151.1 443.9,1152.5 444.6,1150.1 442.6,1148.5 445.1,1148.4"/><polygon points="407,1156.4 407.9,1158.8 410.4,1158.9 408.4,1160.5 409.1,1162.9 407,1161.5 404.9,1162.9 405.6,1160.5 403.6,1158.9 406.1,1158.8"/><circle cx="401" cy="1162" r="1.1"/><polygon points="382,1157.4 382.9,1159.8 385.4,1159.9 383.4,1161.5 384.1,1163.9 382,1162.5 379.9,1163.9 380.6,1161.5 378.6,1159.9 381.1,1159.8"/><circle cx="453.4" cy="1160.6" r="1"/><polygon points="484.4,1159.6 485.3,1162 487.8,1162.1 485.8,1163.7 486.5,1166.1 484.4,1164.7 482.3,1166.1 483,1163.7 481,1162.1 483.5,1162"/><polygon points="299,1158.8 299.9,1161.2 302.4,1161.3 300.4,1162.9 301.1,1165.3 299,1163.9 296.9,1165.3 297.6,1162.9 295.6,1161.3 298.1,1161.2"/><polygon points="330.4,1163.2 331.3,1165.6 333.8,1165.7 331.8,1167.3 332.5,1169.7 330.4,1168.3 328.3,1169.7 329,1167.3 327,1165.7 329.5,1165.6"/><polygon points="306.6,1170 307.5,1172.4 310,1172.5 308,1174.1 308.7,1176.5 306.6,1175.1 304.5,1176.5 305.2,1174.1 303.2,1172.5 305.7,1172.4"/><polygon points="359.6,1172 361.1,1176 365.3,1176.1 362,1178.8 363.1,1182.9 359.6,1180.5 356.1,1182.9 357.2,1178.8 353.9,1176.1 358.1,1176"/><polygon points="421,1171.2 422.5,1175.2 426.7,1175.3 423.4,1178 424.5,1182.1 421,1179.7 417.5,1182.1 418.6,1178 415.3,1175.3 419.5,1175.2"/><circle cx="430.4" cy="1172" r="1.1"/><circle cx="402.6" cy="1180" r="1.1"/><polygon points="388,1180 388.9,1182.4 391.4,1182.5 389.4,1184.1 390.1,1186.5 388,1185.1 385.9,1186.5 386.6,1184.1 384.6,1182.5 387.1,1182.4"/><polygon points="454,1179.2 454.9,1181.6 457.4,1181.7 455.4,1183.3 456.1,1185.7 454,1184.3 451.9,1185.7 452.6,1183.3 450.6,1181.7 453.1,1181.6"/><polygon points="473.4,1182.8 474.9,1186.8 479.1,1186.9 475.8,1189.6 476.9,1193.7 473.4,1191.3 469.9,1193.7 471,1189.6 467.7,1186.9 471.9,1186.8"/><circle cx="495" cy="1186" r="1.1"/><circle cx="331.6" cy="1184" r="1.1"/><circle cx="365" cy="1191.4" r="1.1"/><circle cx="338.6" cy="1193.6" r="1.1"/><circle cx="239" cy="1177.6" r="1.1"/><polygon points="251,1186 251.9,1188.4 254.4,1188.5 252.4,1190.1 253.1,1192.5 251,1191.1 248.9,1192.5 249.6,1190.1 247.6,1188.5 250.1,1188.4"/><polygon points="238.6,1195.2 239.5,1197.6 242,1197.7 240,1199.3 240.7,1201.7 238.6,1200.3 236.5,1201.7 237.2,1199.3 235.2,1197.7 237.7,1197.6"/><polygon points="252,1208 253.5,1212 257.7,1212.1 254.4,1214.8 255.5,1218.9 252,1216.5 248.5,1218.9 249.6,1214.8 246.3,1212.1 250.5,1212"/><circle cx="270" cy="1207" r="1.1"/><circle cx="274" cy="1210" r="1.1"/><polygon points="292,1205.8 292.9,1208.2 295.4,1208.3 293.4,1209.9 294.1,1212.3 292,1210.9 289.9,1212.3 290.6,1209.9 288.6,1208.3 291.1,1208.2"/><polygon points="280,1225 280.9,1227.4 283.4,1227.5 281.4,1229.1 282.1,1231.5 280,1230.1 277.9,1231.5 278.6,1229.1 276.6,1227.5 279.1,1227.4"/><circle cx="312.4" cy="1223.6" r="1"/><circle cx="257.6" cy="1237" r="1.1"/></g>
<path d="M196,1275 L324,1235.5 L556.5,1243 L556.5,1270 L390,1345 L196,1305Z" fill="#f7f7f7"/>
<path d="M196,1275 L324,1235.5 L349,1233 L420,1238 L480,1246 L490,1264.5 C452,1277 414,1293 390.6,1307.6Z" fill="#ed1c24"/>
<path d="M196,1304 L390,1344.5 L556.4,1270.5" fill="none" stroke="#6d6e70" stroke-width="4.6" stroke-linejoin="miter"/>
<path d="M196.4,1276 L197,1304" fill="none" stroke="#6d6e70" stroke-width="2.2"/>
<path d="M390.3,1308 Q386.5,1326 389.8,1344 Q393.8,1326 390.3,1308Z" fill="#6d6e70" stroke="#6d6e70" stroke-width="1"/>
<path d="M556.2,1244 L556.4,1271" fill="none" stroke="#6d6e70" stroke-width="1.8"/>
<path d="M546.6,1246.4 L557,1242.2 L554,1245.6Z" fill="#ed1c24"/>
<path d="M430,1240 C433.4,1236.4 439,1226.4 445,1222 C451,1217.6 459.2,1215.4 466,1213.8 C472.8,1212.2 476.8,1212.1 485.5,1212.5 C494.2,1212.9 508.2,1214.5 518,1216.4 C527.8,1218.4 537.5,1221.9 544,1224.2 C550.5,1226.5 554.6,1228.6 557,1230 C559.4,1231.4 559.6,1230.9 558.5,1232.5 C557.4,1234.1 555.1,1237.1 550.5,1239.8 C545.9,1242.5 537.7,1246.1 531,1248.9 C524.3,1251.7 515,1254.3 510.2,1256.7 C505.4,1259.1 505,1262.3 502.4,1263.4 C499.8,1264.5 496.8,1264.3 494.6,1263.4 C492.4,1262.5 494.2,1259.6 489.4,1258 C484.6,1256.4 474.2,1255.5 466,1254 C457.8,1252.5 446.9,1250.6 440,1248.9 C433.1,1247.2 426.1,1245.2 424.4,1243.7 C422.7,1242.2 426.6,1243.6 430,1240Z" fill="#fff" stroke="#fff" stroke-width="2"/>
<path d="M440,1246.5 C444.3,1247.3 458,1250.1 466,1251.6 C474,1253.1 483.2,1254.1 488,1255.6 C492.8,1257.1 492.3,1259.8 494.6,1260.6 C496.9,1261.4 499.6,1261.6 502,1260.6 C504.4,1259.6 504.2,1256.8 509,1254.4 C513.8,1252 524.2,1249.2 531,1246.3 C537.8,1243.4 546.8,1238.8 550,1237.3" fill="none" stroke="#8f8f8f" stroke-width="1.1"/>
<path d="M328.2,1228 C327.9,1226.3 330.5,1224.4 334,1222 C337.5,1219.6 343.8,1216.2 349,1213.5 C354.2,1210.8 359.4,1208 365,1205.5 C370.6,1203 378.5,1200.2 382.8,1198.5 C387.1,1196.8 387.6,1195.2 390.6,1195 C393.6,1194.8 393.9,1196 401,1197 C408.1,1198 424.8,1199.3 433.5,1200.8 C442.2,1202.3 447.6,1203.8 453,1206 C458.4,1208.2 464.5,1211.1 466,1213.8 C467.5,1216.5 465.5,1219 462,1222 C458.5,1225 451.3,1228.4 445,1232 C438.7,1235.6 428.5,1241 424.4,1243.7 C420.3,1246.4 422.2,1246.5 420.5,1248 C418.8,1249.5 415.9,1252.4 414,1253 C412.1,1253.6 410.5,1252.8 408.8,1251.5 C407.1,1250.2 407.1,1246.5 403.6,1245.2 C400.1,1243.9 394.9,1244.8 388,1243.7 C381.1,1242.6 370.7,1240.5 362,1238.5 C353.3,1236.5 341.6,1233.8 336,1232 C330.4,1230.2 328.5,1229.7 328.2,1228Z" fill="#fff" stroke="#fff" stroke-width="2"/>
<path d="M338,1230 C342,1231 353.7,1234.1 362,1236 C370.3,1237.9 381,1240.1 388,1241.2 C395,1242.3 400.4,1241.5 404,1242.8 C407.6,1244.1 407.8,1247.8 409.5,1249 C411.2,1250.2 412.3,1250.9 414,1250.3 C415.7,1249.7 417.8,1247.1 419.5,1245.6 C421.2,1244.1 423.2,1242.2 424,1241.5" fill="none" stroke="#8f8f8f" stroke-width="1.1"/>
<path d="M433.5,1201.5 C436.2,1202.3 445.1,1204.4 450,1206.5 C454.9,1208.6 460.3,1212.4 463,1214 C465.7,1215.6 465.5,1215.7 466,1216" fill="none" stroke="#b5b5b5" stroke-width="1"/>
<path d="M417.9,1231.6 C421,1221 433,1214.5 451.7,1216.4 C439,1218.8 427,1224.5 417.9,1231.6Z" fill="#6d6e70"/>
<path d="M506.3,1246.5 C509,1236.5 521,1230 538.8,1230.7 C526,1233.5 515,1239.5 506.3,1246.5Z" fill="#6d6e70"/>
<path d="M192.5,1320 L390,1366 L564,1281.6" fill="none" stroke="#ed1c24" stroke-width="4.4" stroke-linejoin="miter"/>
<path d="M218,1313 L192,1320 L203,1336" fill="none" stroke="#ed1c24" stroke-width="3.8" stroke-linejoin="miter" stroke-linecap="round"/>
<path d="M541,1280.6 L565,1281.4 L558.3,1305" fill="none" stroke="#ed1c24" stroke-width="3.8" stroke-linejoin="miter" stroke-linecap="round"/>
<g transform="translate(570 1249.7)">
<text class="b" font-size="58.5" transform="translate(0 0) scale(0.939 1)" x="-1.3" y="0" style="fill:#636466">302 x 128</text>
</g>
</svg></body></html>
